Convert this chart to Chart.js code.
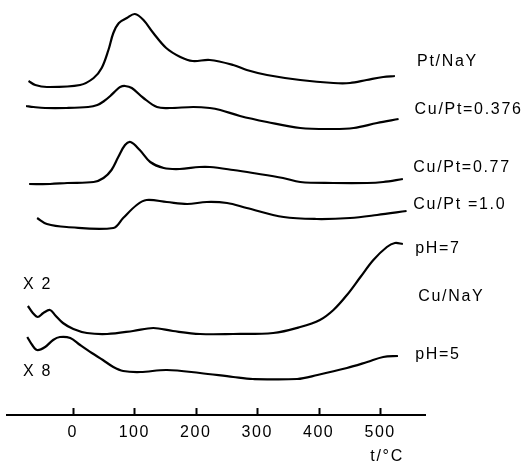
<!DOCTYPE html>
<html>
<head>
<meta charset="utf-8">
<title>TPR profiles</title>
<script src="https://cdn.jsdelivr.net/npm/chart.js@4"></script>
<style>
    html, body { margin: 0; padding: 0; background: #fff; }
    #wrap { width: 523px; height: 467px; }
</style>
</head>
<body>
<div id="wrap"><canvas id="tpr" width="523" height="467"></canvas></div>
<script>
// Temperature (°C) and signal (arbitrary units, curves stacked with offsets)
const ptNayT = [-72, -61, -42, 12, 34, 47, 58, 66, 75, 88, 101, 115, 131, 152, 175, 195, 223, 261, 283, 316, 370, 424, 451, 478, 505, 524];
const ptNayV = [334, 330, 328, 330, 337, 347, 365, 382, 392, 397, 401, 395, 382, 367, 358, 354, 355, 350, 345, 340, 335, 332, 332, 335, 338, 339];

const cuPt037T = [-76, -64, -45, -10, 25, 40, 51, 61, 71, 77, 85, 96, 115, 137, 158, 196, 223, 240, 272, 316, 370, 424, 457, 495, 530];
const cuPt037V = [309, 308, 307, 307, 308, 310, 314, 319, 325, 328, 329, 327, 317, 308, 307, 308, 307, 305, 299, 293, 287, 286, 287, 292, 296];

const cuPt077T = [-71, -37, -9, 34, 50, 63, 74, 85, 94, 109, 126, 148, 174, 206, 223, 261, 293, 342, 370, 424, 479, 505, 537];
const cuPt077V = [231, 231, 232, 233, 237, 245, 258, 270, 273, 265, 253, 247, 246, 248, 248, 245, 242, 237, 233, 232, 232, 233, 236];

const cuPt10T = [-58, -42, -10, 66, 82, 104, 120, 153, 186, 218, 251, 283, 343, 397, 451, 495, 543];
const cuPt10V = [197, 191, 188, 187, 197, 210, 215, 213, 211, 213, 212, 207, 198, 196, 197, 200, 204];

const ph7T = [-73, -65, -57, -48, -37, -29, -16, 1, 23, 56, 98, 131, 163, 207, 261, 326, 370, 402, 424, 446, 468, 489, 511, 524, 537];
const ph7V = [109, 102, 98, 102, 105, 100, 92, 86, 82, 81, 84, 87, 84, 81, 81, 82, 88, 95, 105, 120, 138, 155, 168, 172, 171];

const ph5T = [-74, -66, -58, -45, -32, -21, -4, 12, 31, 49, 66, 82, 110, 153, 207, 261, 293, 365, 398, 446, 479, 505, 529];
const ph5V = [78, 70, 65, 68, 75, 78, 77, 70, 62, 55, 48, 44, 43, 45, 42, 38, 36, 36, 40, 47, 53, 58, 59];

const xTicks = [0, 100, 200, 300, 400, 500];

// annotation texts and where they sit (t, signal)
const noteText = ['Pt/NaY', 'Cu/Pt=0.376', 'Cu/Pt=0.77', 'Cu/Pt =1.0', 'pH=7', 'Cu/NaY', 'pH=5', 'X 2', 'X 8', 't/°C'];
const noteT = [560, 556, 554, 554, 557, 562, 557, -81, -81, 484];
const noteV = [353, 305, 247, 210, 166, 118, 60, 130, 43, -42];

const FONT = '"Liberation Sans", Arial, sans-serif';

function pairs(ts, vs) {
    return ts.map((t, i) => ({ x: t, y: vs[i] }));
}

function curve(label, ts, vs) {
    return {
        label: label,
        data: pairs(ts, vs),
        borderColor: '#000',
        borderWidth: 2.2,
        pointRadius: 0,
        fill: false,
        tension: 0.35
    };
}

const annotate = {
    id: 'annotate',
    beforeDraw(chart) {
        chart.ctx.letterSpacing = '1.5px';
    },
    afterDraw(chart) {
        const ctx = chart.ctx;
        const xs = chart.scales.x;
        const ys = chart.scales.y;
        ctx.save();
        // small tick marks pointing up from the axis line
        ctx.strokeStyle = '#000';
        ctx.lineWidth = 2;
        const base = chart.chartArea.bottom;
        xTicks.forEach(v => {
            const px = Math.round(xs.getPixelForValue(v)) + 0.5;
            ctx.beginPath();
            ctx.moveTo(px, base);
            ctx.lineTo(px, base - 7);
            ctx.stroke();
        });
        ctx.fillStyle = '#000';
        ctx.font = '16px ' + FONT;
        ctx.textAlign = 'left';
        ctx.textBaseline = 'middle';
        ctx.letterSpacing = '1.7px';
        noteText.forEach((txt, i) => {
            ctx.fillText(txt, xs.getPixelForValue(noteT[i]), ys.getPixelForValue(noteV[i]));
        });
        ctx.restore();
    }
};

new Chart(document.getElementById('tpr'), {
    type: 'line',
    data: {
        datasets: [
            curve('Pt/NaY', ptNayT, ptNayV),
            curve('Cu/Pt=0.376', cuPt037T, cuPt037V),
            curve('Cu/Pt=0.77', cuPt077T, cuPt077V),
            curve('Cu/Pt=1.0', cuPt10T, cuPt10V),
            curve('Cu/NaY pH=7 (x2)', ph7T, ph7V),
            curve('Cu/NaY pH=5 (x8)', ph5T, ph5V)
        ]
    },
    options: {
        responsive: false,
        animation: false,
        layout: { padding: { left: 7, right: 98, top: 0, bottom: 0 } },
        plugins: {
            legend: { display: false },
            tooltip: { enabled: false }
        },
        scales: {
            x: {
                type: 'linear',
                min: -107,
                max: 573,
                afterBuildTicks: s => { s.ticks = xTicks.map(v => ({ value: v })); },
                afterFit: s => { s.height = 52; },
                grid: { display: false, drawTicks: false },
                border: { display: true, color: '#000', width: 2 },
                ticks: {
                    color: '#000',
                    padding: 8,
                    maxRotation: 0,
                    font: { family: FONT, size: 16 }
                }
            },
            y: {
                display: false,
                min: 0,
                max: 415
            }
        }
    },
    plugins: [annotate]
});
</script>
</body>
</html>
